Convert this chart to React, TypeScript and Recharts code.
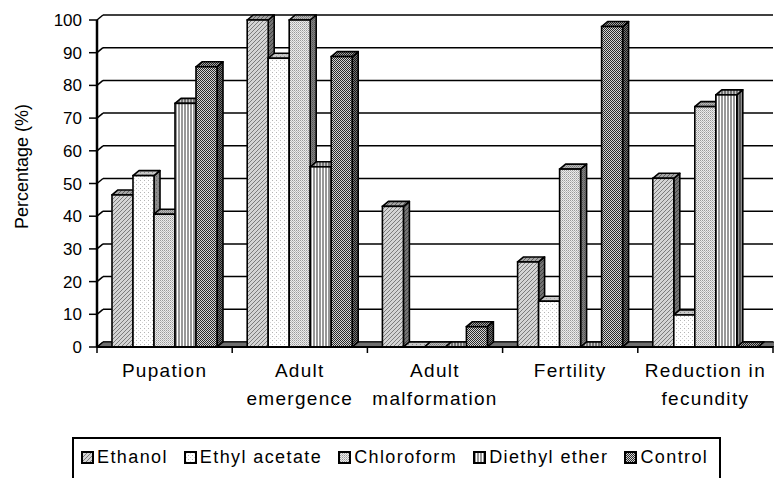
import { BarChart, Bar, XAxis, YAxis, CartesianGrid, ReferenceArea } from "recharts";

const categories = [
  "Pupation",
  "Adult\nemergence",
  "Adult\nmalformation",
  "Fertility",
  "Reduction in\nfecundity",
];

const ethanol = [46.5, 100, 43, 26, 51.6];
const ethylAcetate = [52.4, 88.3, 0, 14, 9.8];
const chloroform = [40.6, 100, 0, 54.4, 73.5];
const diethylEther = [74.5, 55.1, 0, 0, 77.1];
const control = [85.7, 88.8, 6.2, 98, 0];

const yTicks = [0, 10, 20, 30, 40, 50, 60, 70, 80, 90, 100];

const series = [
  { key: "ethanol", name: "Ethanol", values: ethanol },
  { key: "ethyl", name: "Ethyl acetate", values: ethylAcetate },
  { key: "chloro", name: "Chloroform", values: chloroform },
  { key: "diethyl", name: "Diethyl ether", values: diethylEther },
  { key: "control", name: "Control", values: control },
];

const data = categories.map((category, i) => {
  const row: Record<string, string | number> = { category };
  series.forEach((s) => (row[s.key] = s.values[i]));
  return row;
});

const FONT = "'Liberation Sans', Arial, sans-serif";
const W = 774;
const H = 478;
const DX = 6; // 3d depth
const DY = 5;
const BAND = (W - 97 - 1) / categories.length;

function Patterns() {
  return (
    <svg width={0} height={0} style={{ position: "absolute" }}>
      <defs>
        <pattern id="p-ethanol" width={4} height={4} patternUnits="userSpaceOnUse">
          <rect width={4} height={4} fill="#d4d4d4" />
          <path d="M0,4 L4,0 M-1,1 L1,-1 M3,5 L5,3" stroke="#7c7c7c" strokeWidth={1} />
        </pattern>
        <pattern id="p-ethyl" width={4} height={4} patternUnits="userSpaceOnUse">
          <rect width={4} height={4} fill="#ffffff" />
          <rect x={0} y={0} width={1} height={1} fill="#b4b4b4" />
          <rect x={2} y={2} width={1} height={1} fill="#d6d6d6" />
        </pattern>
        <pattern id="p-chloro" width={2} height={2} patternUnits="userSpaceOnUse">
          <rect width={2} height={2} fill="#ececec" />
          <rect x={0} y={0} width={1} height={1} fill="#9a9a9a" />
          <rect x={1} y={1} width={1} height={1} fill="#bdbdbd" />
        </pattern>
        <pattern id="p-diethyl" width={3} height={3} patternUnits="userSpaceOnUse">
          <rect width={3} height={3} fill="#ffffff" />
          <rect x={1} y={0} width={2} height={3} fill="#979797" />
        </pattern>
        <pattern id="p-control" width={2} height={2} patternUnits="userSpaceOnUse">
          <rect width={2} height={2} fill="#d4d4d4" />
          <rect x={0} y={0} width={1} height={1} fill="#2a2a2a" />
          <rect x={1} y={1} width={1} height={1} fill="#2a2a2a" />
        </pattern>
      </defs>
    </svg>
  );
}

function Bar3D(props: any) {
  const { x, y, width, height, fill } = props;
  if (x == null || y == null) return null;
  const h = Math.max(0, height || 0);
  const side = `${x + width},${y} ${x + width + DX},${y - DY} ${x + width + DX},${y + h - DY} ${x + width},${y + h}`;
  const top = `${x},${y} ${x + width},${y} ${x + width + DX},${y - DY} ${x + DX},${y - DY}`;
  return (
    <g>
      <polygon points={side} fill={fill} />
      <polygon points={side} fill="#000" fillOpacity={0.45} stroke="#000" strokeWidth={1.6} strokeLinejoin="round" />
      <polygon points={top} fill={fill} />
      <polygon points={top} fill="#000" fillOpacity={0.22} stroke="#000" strokeWidth={1.6} strokeLinejoin="round" />
      {h > 0 && (
        <rect x={x} y={y} width={width} height={h} fill={fill} stroke="#000" strokeWidth={1.6} />
      )}
    </g>
  );
}

function Floor(props: any) {
  const { x, y, width, height } = props;
  const b = y + height;
  return (
    <polygon
      points={`${x},${b} ${x + width},${b} ${x + width + DX},${b - DY} ${x + DX},${b - DY}`}
      fill="#6e6e6e"
      stroke="#000"
      strokeWidth={1}
    />
  );
}

function YTick(props: any) {
  const { x, y, payload } = props;
  return (
    <g>
      <text x={x - 15} y={y} dy={6} textAnchor="end" fontSize={17} fontFamily={FONT} fill="#000">
        {payload.value}
      </text>
      <line x1={x - 8} y1={y} x2={x} y2={y} stroke="#000" strokeWidth={1.5} />
      <line x1={x} y1={y} x2={x + DX} y2={y - DY} stroke="#000" strokeWidth={1.5} />
    </g>
  );
}

function XTick(props: any) {
  const { x, y, payload, index } = props;
  const half = payload.offset || BAND / 2;
  const lines = String(payload.value).split("\n");
  return (
    <g>
      <line x1={x - half} y1={y} x2={x - half} y2={y + 6} stroke="#000" strokeWidth={1.5} />
      {index === categories.length - 1 && (
        <line x1={x + half} y1={y} x2={x + half} y2={y + 6} stroke="#000" strokeWidth={1.5} />
      )}
      <text
        x={x}
        y={y + 30}
        textAnchor="middle"
        fontSize={19}
        fontFamily={FONT}
        fill="#000"
        style={{ letterSpacing: "1.3px" }}
      >
        {lines.map((l, i) => (
          <tspan key={i} x={x} dy={i === 0 ? 0 : 28}>
            {l}
          </tspan>
        ))}
      </text>
    </g>
  );
}

function GridLine(props: any) {
  const { x1, y1, x2, y2 } = props;
  return <line x1={x1 + DX} y1={y1 - DY} x2={x2} y2={y2 - DY} stroke="#000" strokeWidth={1.5} />;
}

function YLabel(props: any) {
  const { viewBox } = props;
  const cx = (viewBox?.x ?? 0) + 22;
  const cy = (viewBox?.y ?? 20) + (viewBox?.height ?? 327) / 2 - 17;
  return (
    <text
      x={cx}
      y={cy}
      transform={`rotate(-90, ${cx}, ${cy})`}
      textAnchor="middle"
      dominantBaseline="central"
      fontSize={18}
      fontFamily={FONT}
      fill="#000"
    >
      Percentage (%)
    </text>
  );
}

function Legend() {
  return (
    <div
      style={{
        position: "absolute",
        left: 72,
        top: 437,
        width: 649,
        height: 60,
        boxSizing: "border-box",
        border: "2px solid #000",
        padding: "7px 0 0 7px",
        display: "flex",
        alignItems: "flex-start",
        fontFamily: FONT,
        fontSize: 18,
        letterSpacing: "1.4px",
        lineHeight: "22px",
        whiteSpace: "nowrap",
      }}
    >
      {series.map((s) => (
        <div key={s.key} style={{ display: "flex", alignItems: "center", marginRight: 16, height: 22 }}>
          <svg width={13} height={13} style={{ marginRight: 3 }}>
            <rect x={1} y={1} width={11} height={11} fill={`url(#p-${s.key})`} stroke="#000" strokeWidth={2} />
          </svg>
          <span>{s.name}</span>
        </div>
      ))}
    </div>
  );
}

export default function App() {
  return (
    <div style={{ position: "fixed", left: 0, top: 0, width: W, height: H, background: "#fff", overflow: "hidden" }}>
      <Patterns />
      <BarChart
        width={W}
        height={H}
        data={data}
        margin={{ top: 20, right: 1, left: 0, bottom: 61 }}
        barCategoryGap={15}
        barGap={0}
      >
        <CartesianGrid vertical={false} horizontal={GridLine} />
        <ReferenceArea y1={0} y2={100} shape={Floor} ifOverflow="visible" />
        <XAxis
          dataKey="category"
          height={70}
          interval={0}
          tickLine={false}
          tickSize={0}
          tickMargin={0}
          axisLine={{ stroke: "#000", strokeWidth: 2 }}
          tick={XTick}
        />
        <YAxis
          width={97}
          domain={[0, 100]}
          ticks={yTicks}
          interval={0}
          tickLine={false}
          tickSize={0}
          tickMargin={0}
          axisLine={{ stroke: "#000", strokeWidth: 2.5 }}
          tick={YTick}
          label={YLabel}
        />
        {series.map((s) => (
          <Bar
            key={s.key}
            dataKey={s.key}
            name={s.name}
            fill={`url(#p-${s.key})`}
            shape={Bar3D}
            isAnimationActive={false}
          />
        ))}
      </BarChart>
      <Legend />
    </div>
  );
}
